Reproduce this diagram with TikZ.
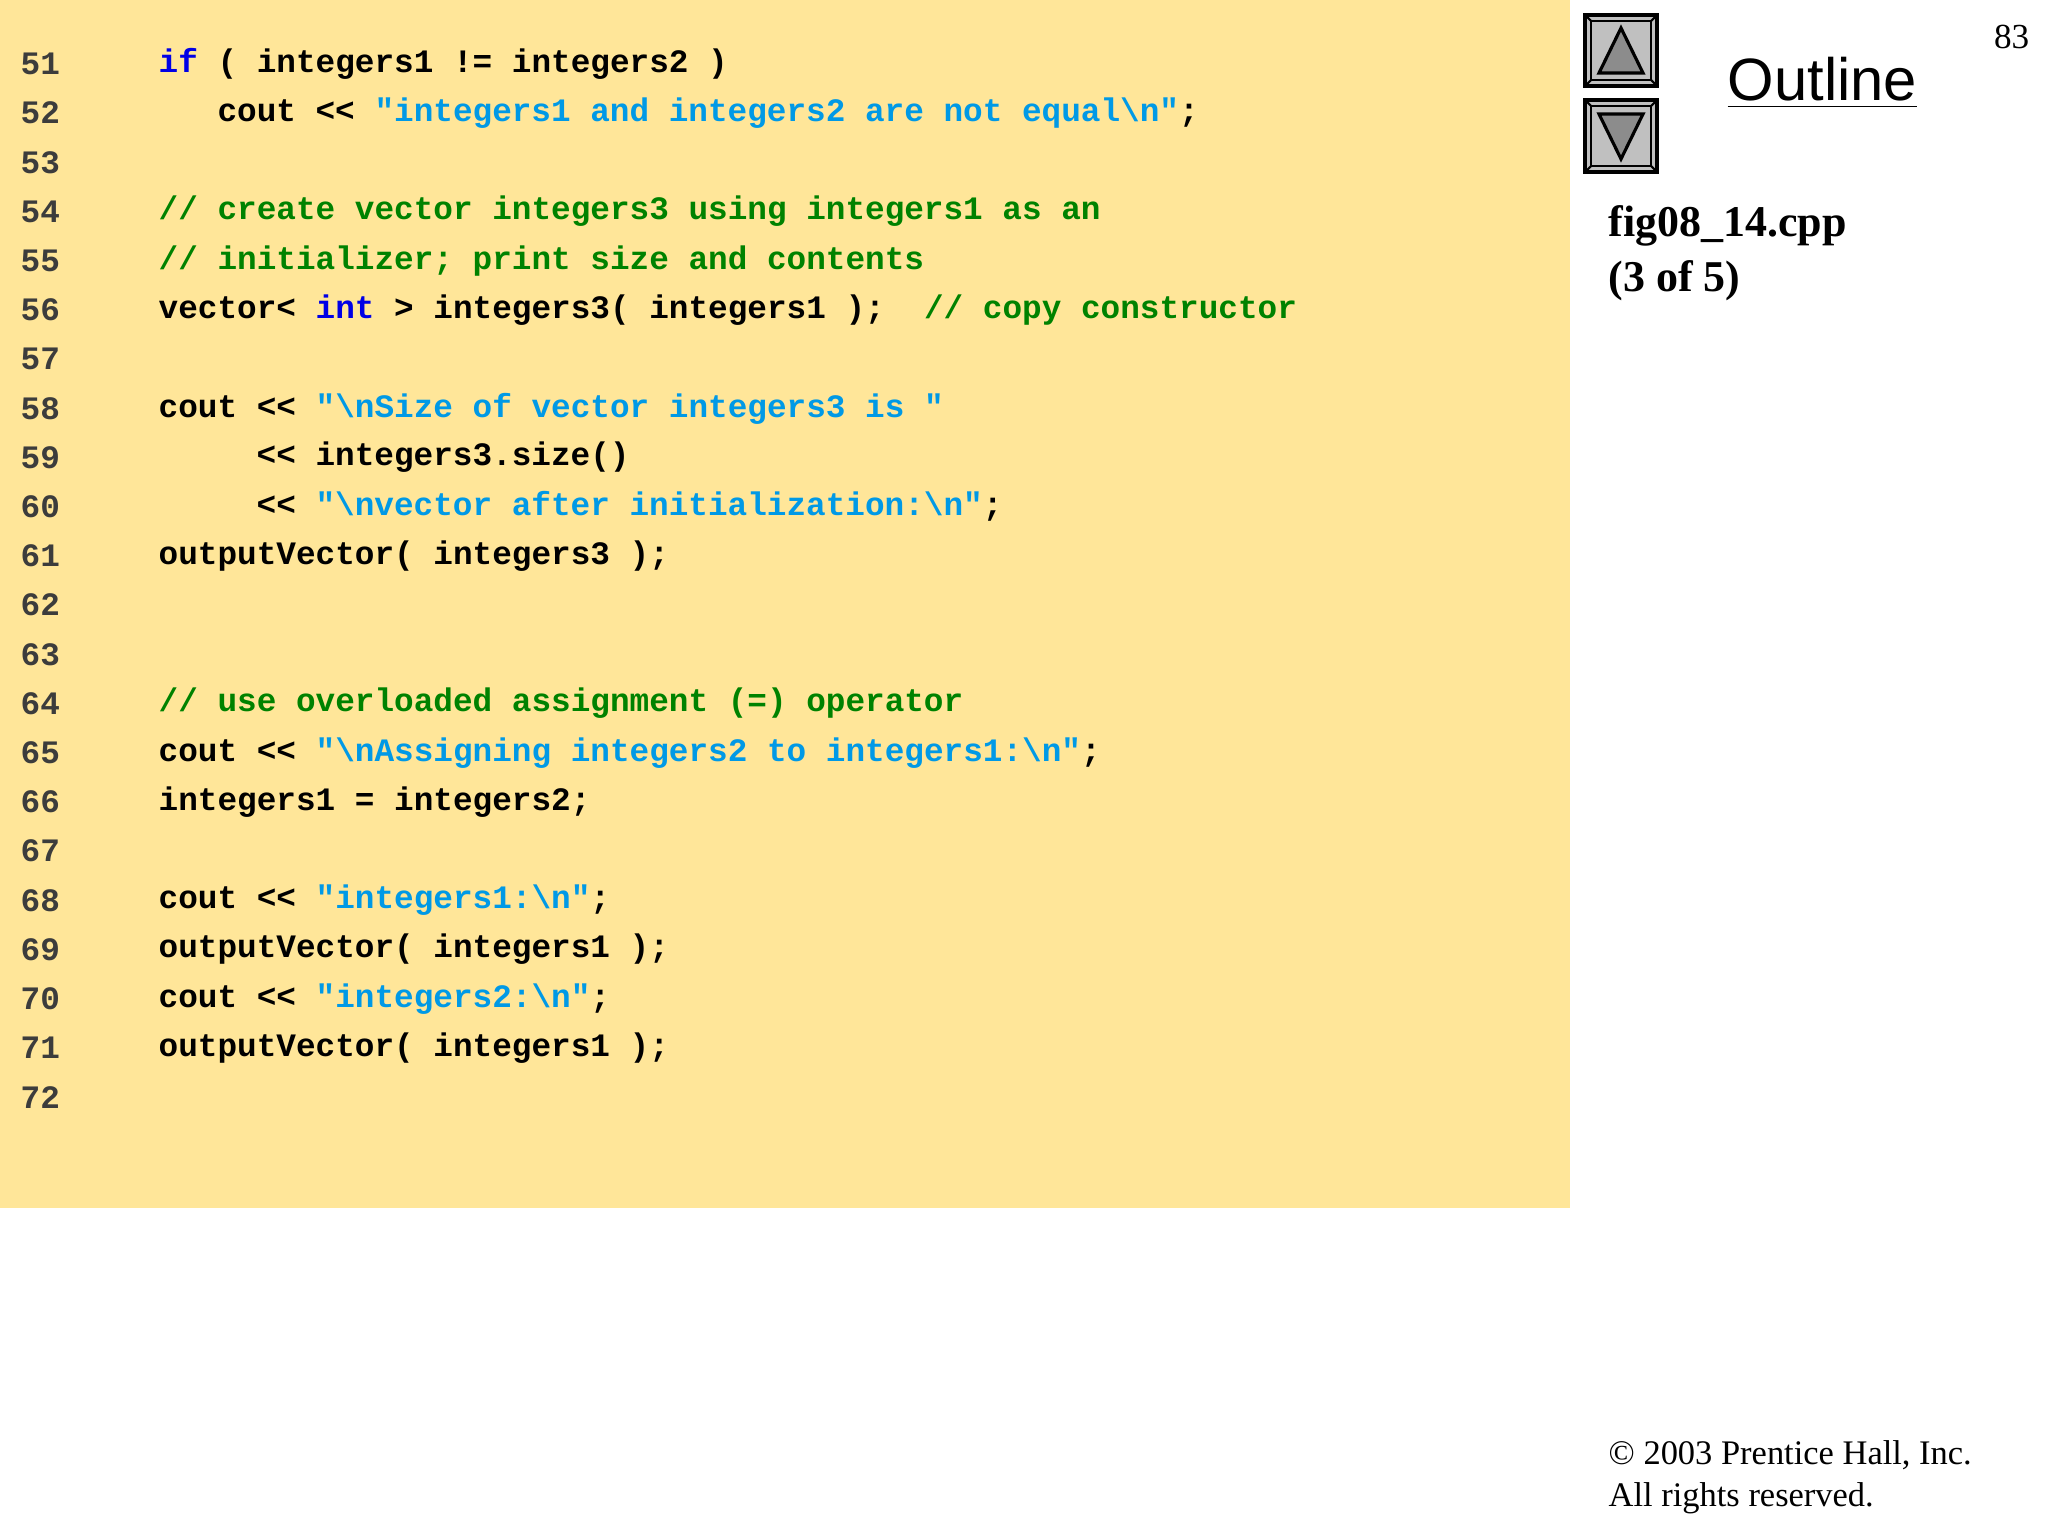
\documentclass[tikz,border=0pt]{standalone}
\usepackage{fontspec}
\setmainfont{Liberation Serif}
\newfontfamily\codefont{Liberation Mono}
\newfontfamily\outfont{Liberation Sans}
\definecolor{panel}{RGB}{255,230,153}
\definecolor{kwc}{RGB}{0,0,230}
\definecolor{strc}{RGB}{0,153,230}
\definecolor{cmc}{RGB}{0,130,0}
\definecolor{numc}{RGB}{60,60,60}
\definecolor{btn}{RGB}{192,192,192}
\definecolor{tri}{RGB}{140,140,140}
\newcommand\kw[1]{\textcolor{kwc}{#1}}
\newcommand\st[1]{\textcolor{strc}{#1}}
\newcommand\cm[1]{\textcolor{cmc}{#1}}
\newcommand\bs{\textbackslash}
\tikzset{
  code/.style={anchor=west,inner sep=0pt,font=\codefont\bfseries\fontsize{9.3pt}{11pt}\selectfont},
  lnum/.style={code,text=numc},
  btnbox/.style={draw=black,line width=1.2pt,fill=btn},
}
\begin{document}
\begin{tikzpicture}[x=0.01cm,y=-0.01cm]
\useasboundingbox (0,0) rectangle (2048,1536);
\fill[white] (0,0) rectangle (2048,1536);
\fill[panel] (0,0) rectangle (1570,1208);
\foreach \n [count=\i from 0] in {51,...,72}{
  \node[lnum] (n\n) at (20,{64+\i*49.2}) {\n};
}
\def\cx#1{158+#1*19.6}
\node[code] (l51) at ({\cx{0}},64) {\kw{if} ( integers1 != integers2 )};
\node[code] (l52) at ({\cx{3}},113.2) {cout << \st{"integers1 and integers2 are not equal\bs n"};};
\node[code] (l54) at ({\cx{0}},211.6) {\cm{// create vector integers3 using integers1 as an}};
\node[code] (l55) at ({\cx{0}},260.8) {\cm{// initializer; print size and contents}};
\node[code] (l56) at ({\cx{0}},310) {vector< \kw{int} > integers3( integers1 );\ \ \cm{// copy constructor}};
\node[code] (l58) at ({\cx{0}},408.4) {cout << \st{"\bs nSize of vector integers3 is "}};
\node[code] (l59) at ({\cx{5}},457.6) {<< integers3.size()};
\node[code] (l60) at ({\cx{5}},506.8) {<< \st{"\bs nvector after initialization:\bs n"};};
\node[code] (l61) at ({\cx{0}},556) {outputVector( integers3 );};
\node[code] (l64) at ({\cx{0}},703.6) {\cm{// use overloaded assignment (=) operator}};
\node[code] (l65) at ({\cx{0}},752.8) {cout << \st{"\bs nAssigning integers2 to integers1:\bs n"};};
\node[code] (l66) at ({\cx{0}},802) {integers1 = integers2;};
\node[code] (l68) at ({\cx{0}},900.4) {cout << \st{"integers1:\bs n"};};
\node[code] (l69) at ({\cx{0}},949.6) {outputVector( integers1 );};
\node[code] (l70) at ({\cx{0}},998.8) {cout << \st{"integers2:\bs n"};};
\node[code] (l71) at ({\cx{0}},1048) {outputVector( integers1 );};
% buttons
\draw[btnbox] (1585,15) rectangle (1657,86);
\draw[line width=0.8pt] (1591,21) rectangle (1651,80);
\foreach \a/\b in {1585/15,1657/15,1585/86,1657/86}{}
\draw[line width=0.6pt] (1585,15)--(1591,21) (1657,15)--(1651,21) (1585,86)--(1591,80) (1657,86)--(1651,80);
\draw[fill=tri,line width=0.9pt] (1621,28)--(1643,73)--(1599,73)--cycle;
\draw[btnbox] (1585,100) rectangle (1657,172);
\draw[line width=0.8pt] (1591,106) rectangle (1651,166);
\draw[line width=0.6pt] (1585,100)--(1591,106) (1657,100)--(1651,106) (1585,172)--(1591,166) (1657,172)--(1651,166);
\draw[fill=tri,line width=0.9pt] (1599,114)--(1643,114)--(1621,159)--cycle;
% texts
\node[anchor=west,inner sep=0pt,font=\outfont\fontsize{17pt}{20pt}\selectfont] (outl) at (1727,83) {\underline{Outline}};
\node[anchor=east,inner sep=0pt,font=\fontsize{10pt}{12pt}\selectfont] (pg) at (2030,37) {83};
\node[anchor=north west,align=left,inner sep=0pt,font=\bfseries\fontsize{12.5pt}{15.5pt}\selectfont] (fig) at (1608,205) {fig08\_14.cpp\\(3 of 5)};
\node[anchor=north west,align=left,inner sep=0pt,font=\fontsize{9.8pt}{12pt}\selectfont] (copy) at (1608,1440) {\textcopyright{} 2003 Prentice Hall, Inc.\\All rights reserved.};
\end{tikzpicture}
\end{document}
